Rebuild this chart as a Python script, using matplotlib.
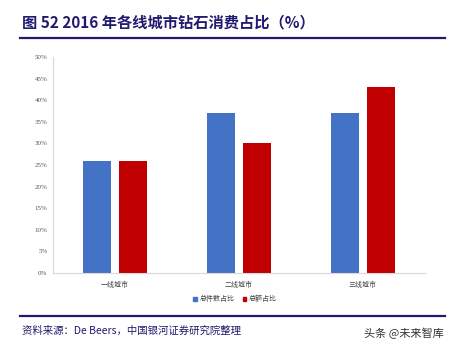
import numpy as np
import matplotlib.pyplot as plt
from matplotlib.lines import Line2D
from matplotlib.patches import Patch

plt.rcParams['font.family'] = ['Noto Sans CJK SC', 'DejaVu Sans']

cities = ['一线城市', '二线城市', '三线城市']
count_share = [26, 37, 37]   # 总件数占比
value_share = [26, 30, 43]   # 总额占比
series_names = ['总件数占比', '总额占比']
colors = ['#4472C4', '#C00000']

fig = plt.figure(figsize=(4.52, 3.55), dpi=100)
W, H = 452, 355

# axes placement in pixel terms
ax = fig.add_axes([53 / W, 1 - 273 / H, 372 / W, (273 - 57) / H])

x = np.arange(len(cities))
bw = 0.224
off = 0.148
ax.bar(x - off, count_share, width=bw, color=colors[0])
ax.bar(x + off, value_share, width=bw, color=colors[1])

ax.set_xlim(-0.5, 2.5)
ax.set_ylim(0, 50)
ax.set_yticks(range(0, 51, 5))
ax.set_yticklabels([f'{v}%' for v in range(0, 51, 5)], family='Liberation Serif',
                   fontsize=5, color='#595959')
ax.set_xticks(x)
ax.set_xticklabels(cities, fontsize=5, color='#404040')
ax.tick_params(axis='both', length=0, pad=6)
ax.tick_params(axis='y', pad=4)
for s in ['top', 'right']:
    ax.spines[s].set_visible(False)
for s in ['left', 'bottom']:
    ax.spines[s].set_color('#D9D9D9')
    ax.spines[s].set_linewidth(0.8)

handles = [Patch(color=c, label=n) for c, n in zip(colors, series_names)]
fig.legend(handles=handles, loc='center', bbox_to_anchor=(235 / W, 1 - 299 / H),
           ncol=2, frameon=False, fontsize=5, handlelength=0.5, handleheight=0.5,
           columnspacing=1.2, handletextpad=0.4, labelcolor='#404040')

# title and rules
navy = '#1F1B6E'
fig.text(22 / W, 1 - 22 / H, '图 52 2016 年各线城市钻石消费占比（%）', fontsize=11,
         color=navy, fontweight='bold', va='center', ha='left')
fig.add_artist(Line2D([20 / W, 445 / W], [1 - 38 / H, 1 - 38 / H], color=navy, lw=1.6))
fig.add_artist(Line2D([20 / W, 445 / W], [1 - 316 / H, 1 - 316 / H], color=navy, lw=1.6))
fig.text(22 / W, 1 - 331 / H, '资料来源：De Beers，中国银河证券研究院整理', fontsize=7.5,
         color=navy, style='italic', va='center', ha='left')
fig.text(444 / W, 1 - 333 / H, '头条 @未来智库', fontsize=8, color='#333333',
         va='center', ha='right')

fig.savefig('out.png', dpi=100)
